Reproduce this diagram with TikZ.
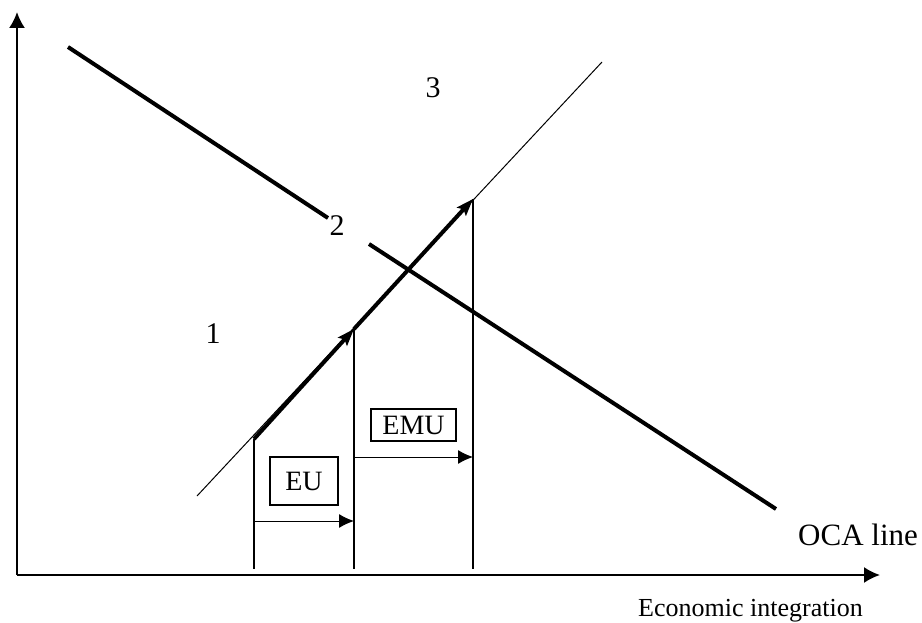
\documentclass[tikz,border=0pt]{standalone}
\usepackage{fontspec}
\setmainfont{Liberation Serif}
\usetikzlibrary{arrows.meta}

\tikzset{
  axis/.style={line width=2pt,-{Latex[length=16pt,width=16pt]}},
  ocaline/.style={line width=4pt},
  path45/.style={line width=1pt},
  stage/.style={line width=4pt,-{Stealth[length=17pt,width=12pt,inset=3pt]}},
  mark line/.style={line width=2pt},
  shift arrow/.style={line width=1pt,-{Latex[length=15pt,width=14pt]}},
  box/.style={draw,line width=1.6pt,inner sep=0pt,font=\fontsize{28}{28}\selectfont},
  num/.style={inner sep=0pt,font=\fontsize{30}{30}\selectfont}
}

\begin{document}
\begin{tikzpicture}[x=1pt,y=-1pt]
\useasboundingbox (0,0) rectangle (922,623);
% axes
\coordinate (o) at (17,575);
\coordinate (y-top) at (17,12);
\coordinate (x-end) at (880,575);
\draw[axis] (o) -- (y-top);
\draw[axis] (o) -- (x-end);
% OCA line, broken at the label 2
\coordinate (oca-0) at (68,47);
\coordinate (oca-1) at (328,218);
\coordinate (oca-2) at (369,244);
\coordinate (oca-3) at (776,509);
\draw[ocaline] (oca-0) -- (oca-1);
\draw[ocaline] (oca-2) -- (oca-3);
% thin line
\coordinate (p-0) at (197,496);
\coordinate (p-1) at (602,62);
\draw[path45] (p-0) -- (p-1);
% stages
\coordinate (s-0) at (254,439);
\coordinate (s-1) at (354,329);
\coordinate (s-2) at (473,199);
\coordinate (b-0) at (254,569);
\coordinate (b-1) at (354,569);
\coordinate (b-2) at (473,569);
\draw[mark line] (s-0) -- (b-0);
\draw[mark line] (s-1) -- (b-1);
\draw[mark line] (s-2) -- (b-2);
\draw[stage] (s-0) -- (s-1);
\draw[stage] (s-1) -- (s-2);
% horizontal shifts
\coordinate (eu-0) at (254,521);
\coordinate (eu-1) at (354,521);
\coordinate (emu-0) at (354,457);
\coordinate (emu-1) at (473,457);
\draw[shift arrow] (eu-0) -- (eu-1);
\draw[shift arrow] (emu-0) -- (emu-1);
% labels
\node (eu) at (304,481) [box,minimum width=68pt,minimum height=48pt] {EU};
\node (emu) at (413.5,425) [box,minimum width=85pt,minimum height=32pt] {\raisebox{-3pt}{EMU}};
\node (r-1) at (213,334) [num] {1};
\node (r-2) at (337,226) [num] {2};
\node (r-3) at (433,88) [num] {3};
\node (oca) at (798,535) [anchor=west,inner sep=0pt,font=\fontsize{31}{31}\selectfont] {OCA line};
\node (xlab) at (638,611) [anchor=west,inner sep=0pt,font=\fontsize{26}{26}\selectfont] {Economic integration};
\end{tikzpicture}
\end{document}
